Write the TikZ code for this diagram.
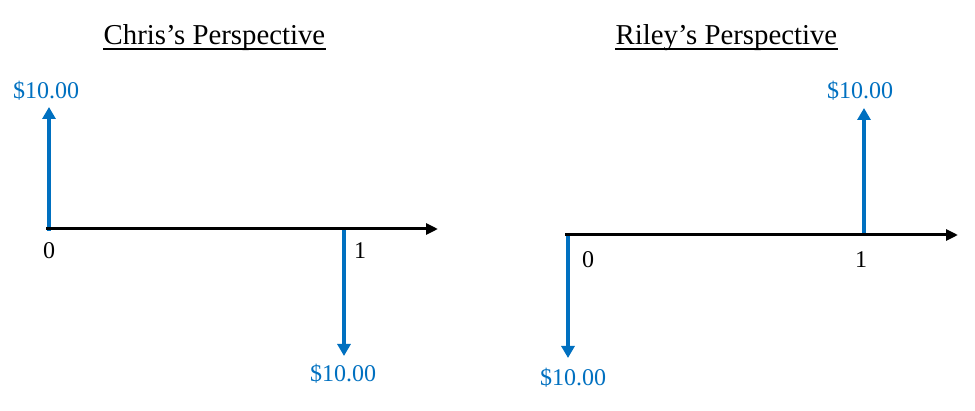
\documentclass[tikz,border=0pt]{standalone}
\usepackage{fontspec}
\setmainfont{Liberation Serif}
\usetikzlibrary{arrows.meta}
\definecolor{cashblue}{HTML}{0070C0}
\begin{document}
\begin{tikzpicture}
[x=0.5pt,y=-0.5pt,
 axis/.style={line width=1.5pt,-{Triangle[width=5.5pt,length=6pt]}},
 flow/.style={cashblue,line width=2pt,-{Triangle[width=6.5pt,length=6pt]}},
 amount/.style={cashblue,anchor=base,inner sep=0pt,
                font=\fontsize{12}{14}\selectfont},
 period/.style={anchor=base,inner sep=0pt,font=\fontsize{12}{14}\selectfont},
 heading/.style={anchor=base,inner sep=0pt,font=\fontsize{14.4}{16}\selectfont},
 rule/.style={line width=0.6pt}]
\useasboundingbox (0,0) rectangle (975,411);
% Chris
\node[heading] (chrisTitle) at (214.5,45) {Chris’s Perspective};
\draw[rule] ([yshift=-2pt]chrisTitle.base west) -- ([yshift=-2pt]chrisTitle.base east);
\coordinate (chrisStart) at (46,229);
\coordinate (chrisEnd) at (438,229);
\coordinate (chrisZero) at (49,231);
\coordinate (chrisOne) at (344,229);
\coordinate (chrisIn) at (49,107);
\coordinate (chrisOut) at (344,356);
\node[amount] (chrisInLabel) at (46,99) {\$10.00};
\node[amount] (chrisOutLabel) at (343,381) {\$10.00};
\node[period] (chrisZeroLabel) at (49,259) {0};
\node[period] (chrisOneLabel) at (360,259) {1};
\draw[flow] (chrisZero) -- (chrisIn);
\draw[flow] (chrisOne) -- (chrisOut);
\draw[axis] (chrisStart) -- (chrisEnd);
% Riley
\node[heading] (rileyTitle) at (726.5,45) {Riley’s Perspective};
\draw[rule] ([yshift=-2pt]rileyTitle.base west) -- ([yshift=-2pt]rileyTitle.base east);
\coordinate (rileyStart) at (565,235);
\coordinate (rileyEnd) at (958,235);
\coordinate (rileyZero) at (568,233);
\coordinate (rileyOne) at (864,235);
\coordinate (rileyIn) at (864,108);
\coordinate (rileyOut) at (568,358);
\node[amount] (rileyInLabel) at (860,99) {\$10.00};
\node[amount] (rileyOutLabel) at (573,386) {\$10.00};
\node[period] (rileyZeroLabel) at (588,268) {0};
\node[period] (rileyOneLabel) at (861,268) {1};
\draw[flow] (rileyZero) -- (rileyOut);
\draw[flow] (rileyOne) -- (rileyIn);
\draw[axis] (rileyStart) -- (rileyEnd);
\end{tikzpicture}
\end{document}
